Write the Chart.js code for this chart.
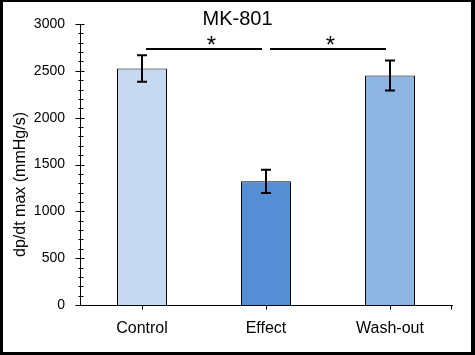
<!DOCTYPE html>
<html>
<head>
<meta charset="utf-8">
<script src="https://cdn.jsdelivr.net/npm/chart.js@4/dist/chart.umd.min.js"></script>
<style>
  html, body { margin: 0; padding: 0; background: #fff; }
  #wrap { position: relative; width: 475px; height: 355px; }
</style>
</head>
<body>
<div id="wrap"><canvas id="c" width="475" height="355"></canvas></div>
<script>
// ---- data ----
const categories = ['Control', 'Effect', 'Wash-out'];
const means = [2525, 1320, 2450];
const errors = [142, 125, 160];
const barColors = ['#C6D9F1', '#558ED5', '#8EB4E3'];
const yTicks = [0, 500, 1000, 1500, 2000, 2500, 3000];
const yMinorStep = 100;
const chartTitle = 'MK-801';
const yTitle = 'dp/dt max (mmHg/s)';
// significance brackets: [from category, to category, level (data units), star position fraction]
const sigFrom = [0, 1];
const sigTo = [1, 2];
const sigLevel = [2730, 2730];
const sigStarFrac = [0.56, 0.52];
const sigMark = '*';

const FONT = "'Liberation Sans', Arial, sans-serif";

const decor = {
  id: 'decor',
  beforeDraw(chart) {
    const ctx = chart.ctx;
    ctx.save();
    ctx.fillStyle = '#fff';
    ctx.fillRect(0, 0, chart.width, chart.height);
    ctx.restore();
  },
  afterDatasetsDraw(chart) {
    const ctx = chart.ctx;
    const x = chart.scales.x, y = chart.scales.y;
    ctx.save();
    // error bars
    ctx.strokeStyle = '#000';
    ctx.lineWidth = 2;
    means.forEach((m, i) => {
      const cx = Math.round(x.getPixelForValue(i));
      const yt = y.getPixelForValue(m + errors[i]);
      const yb = y.getPixelForValue(m - errors[i]);
      ctx.beginPath();
      ctx.moveTo(cx, yt); ctx.lineTo(cx, yb);
      ctx.moveTo(cx - 5, yt); ctx.lineTo(cx + 5, yt);
      ctx.moveTo(cx - 5, yb); ctx.lineTo(cx + 5, yb);
      ctx.stroke();
    });
    // significance brackets
    ctx.lineWidth = 2;
    ctx.fillStyle = '#000';
    ctx.font = '24px ' + FONT;
    ctx.textAlign = 'center';
    ctx.textBaseline = 'alphabetic';
    sigFrom.forEach((a, k) => {
      const b = sigTo[k];
      const xa = x.getPixelForValue(a) + 4;
      const xb = x.getPixelForValue(b) - 4;
      const ly = Math.round(y.getPixelForValue(sigLevel[k])) ;
      ctx.beginPath();
      ctx.moveTo(xa, ly); ctx.lineTo(xb, ly);
      ctx.stroke();
      const ca = x.getPixelForValue(a), cb = x.getPixelForValue(b);
      ctx.fillText(sigMark, ca + (cb - ca) * sigStarFrac[k], ly + 4);
    });
    // y tick marks (major and minor)
    ctx.lineWidth = 1;
    const ax = Math.round(chart.chartArea.left) + 0.5;
    for (let v = y.min; v <= y.max; v += yMinorStep) {
      const py = Math.round(y.getPixelForValue(v)) + 0.5;
      const major = yTicks.includes(v);
      ctx.beginPath();
      ctx.moveTo(ax - (major ? 5 : 2), py);
      ctx.lineTo(ax + (major ? 4 : 3), py);
      ctx.stroke();
    }
    // x tick marks at category centers and right end
    const by = Math.round(chart.chartArea.bottom) + 0.5;
    categories.forEach((c, i) => {
      const px = Math.round(x.getPixelForValue(i)) + 0.5;
      ctx.beginPath(); ctx.moveTo(px, by); ctx.lineTo(px, by + 4); ctx.stroke();
    });
    const rx = Math.round(chart.chartArea.right) - 0.5;
    ctx.beginPath(); ctx.moveTo(rx, by); ctx.lineTo(rx, by + 4); ctx.stroke();
    ctx.restore();
  },
  afterDraw(chart) {
    const ctx = chart.ctx;
    ctx.save();
    // title
    ctx.fillStyle = '#000';
    ctx.font = '20px ' + FONT;
    ctx.textAlign = 'center';
    ctx.textBaseline = 'alphabetic';
    ctx.fillText(chartTitle, chart.width / 2, 25);
    // y axis title
    const ca = chart.chartArea;
    ctx.font = '16px ' + FONT;
    ctx.translate(25, (ca.top + ca.bottom) / 2 + 20);
    ctx.rotate(-Math.PI / 2);
    ctx.fillText(yTitle, 0, 0);
    ctx.restore();
    // outer frame
    ctx.save();
    ctx.fillStyle = '#000';
    ctx.fillRect(0, 0, chart.width, 2);
    ctx.fillRect(0, chart.height - 3, chart.width, 3);
    ctx.fillRect(0, 0, 3, chart.height);
    ctx.fillRect(chart.width - 4, 0, 4, chart.height);
    ctx.restore();
  }
};

new Chart(document.getElementById('c'), {
  type: 'bar',
  data: {
    labels: categories,
    datasets: [{
      data: means,
      backgroundColor: barColors,
      borderColor: '#000',
      borderWidth: 1,
      borderSkipped: 'start',
      barPercentage: 0.403,
      categoryPercentage: 1
    }]
  },
  options: {
    responsive: false,
    animation: false,
    events: [],
    layout: { padding: { top: 24, left: 0, right: 23, bottom: 0 } },
    plugins: { legend: { display: false }, title: { display: false }, tooltip: { enabled: false } },
    scales: {
      x: {
        grid: { display: false, drawTicks: false },
        border: { display: true, color: '#000', width: 1 },
        ticks: { color: '#000', font: { family: FONT, size: 16 }, padding: 14, maxRotation: 0 },
        afterFit(s) { s.height = 50; }
      },
      y: {
        min: 0, max: 3000,
        afterBuildTicks(s) { s.ticks = yTicks.map(v => ({ value: v })); },
        grid: { display: false, drawTicks: false },
        border: { display: true, color: '#000', width: 1 },
        ticks: { color: '#000', font: { family: FONT, size: 14 }, padding: 15, callback: v => String(v) },
        afterFit(s) { s.width = 80; }
      }
    }
  },
  plugins: [decor]
});
</script>
</body>
</html>
